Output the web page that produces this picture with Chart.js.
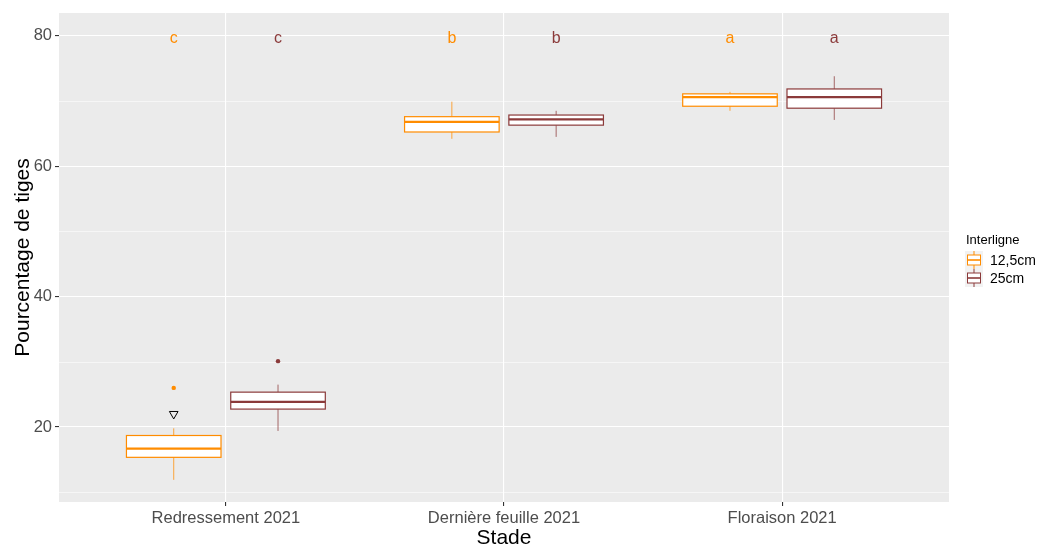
<!DOCTYPE html>
<html>
<head>
<meta charset="utf-8">
<script src="https://cdn.jsdelivr.net/npm/chart.js@4/dist/chart.umd.min.js"></script>
<style>
  html, body { margin: 0; padding: 0; background: #ffffff; }
  #wrap { width: 1038px; height: 547px; position: relative; }
</style>
</head>
<body>
<div id="wrap"><canvas id="c" width="1038" height="547"></canvas></div>
<script>
// Stades (x categories) and spacing groups
const stades = ['Redressement 2021', 'Dernière feuille 2021', 'Floraison 2021'];
const interlignes = ['12,5cm', '25cm'];
const couleurs = ['#FF8C00', '#8B3A3A'];

// Box statistics per stade: [whisker low, Q1, median, Q3, whisker high]
const stats125 = [
  [11.9, 15.35, 16.7, 18.7, 19.8],
  [64.2, 65.25, 66.8, 67.6, 69.9],
  [68.5, 69.2, 70.6, 71.1, 71.4]
];
const stats25 = [
  [19.4, 22.75, 23.85, 25.35, 26.5],
  [64.5, 66.3, 67.2, 67.85, 68.5],
  [67.1, 68.9, 70.6, 71.85, 73.8]
];

// Outlying values: [stade index, value]
const outliers125 = [[0, 26.0]];
const outliers25 = [[0, 30.1]];
// Open triangle marker
const triangleMark = [[0, 22.0]];

// Significance letters placed at y = 80
const lettres125 = ['c', 'b', 'a'];
const lettres25 = ['c', 'b', 'a'];
const lettreY = 80;

// Axis ticks
const yTicks = [20, 40, 60, 80];
const yMinor = [10, 30, 50, 70];
const xTicks = [1, 2, 3];

const dodge = 0.1875;     // offset of each box from the category centre
const boxHalf = 0.17;     // half width of a box in category units
const FONT = '"Liberation Sans", Arial, sans-serif';

function toPoints(list, off) {
  return list.map(([i, v]) => ({ x: i + 1 + off, y: v }));
}

const panelPlugin = {
  id: 'panel',
  beforeDraw(chart) {
    const { ctx, chartArea: a, scales: { y } } = chart;
    ctx.save();
    ctx.fillStyle = '#EBEBEB';
    ctx.fillRect(a.left, a.top, a.right - a.left, a.bottom - a.top);
    ctx.strokeStyle = '#FFFFFF';
    ctx.lineWidth = 0.55;
    yMinor.forEach(v => {
      const py = Math.round(y.getPixelForValue(v)) + 0.5;
      ctx.beginPath(); ctx.moveTo(a.left, py); ctx.lineTo(a.right, py); ctx.stroke();
    });
    ctx.restore();
  },
  beforeDatasetsDraw(chart) {
    const { ctx, scales: { x, y } } = chart;
    ctx.save();
    [stats125, stats25].forEach((series, s) => {
      const off = s === 0 ? -dodge : dodge;
      ctx.strokeStyle = couleurs[s];
      series.forEach((st, i) => {
        const [lo, q1, med, q3, hi] = st;
        const cx = x.getPixelForValue(i + 1 + off);
        const l = x.getPixelForValue(i + 1 + off - boxHalf);
        const r = x.getPixelForValue(i + 1 + off + boxHalf);
        const pq1 = y.getPixelForValue(q1), pq3 = y.getPixelForValue(q3);
        // whiskers
        ctx.lineWidth = 1;
        ctx.globalAlpha = 0.75;
        ctx.beginPath();
        ctx.moveTo(cx, y.getPixelForValue(hi)); ctx.lineTo(cx, pq3);
        ctx.moveTo(cx, pq1); ctx.lineTo(cx, y.getPixelForValue(lo));
        ctx.stroke();
        ctx.globalAlpha = 1;
        // box
        ctx.fillStyle = '#FFFFFF';
        ctx.fillRect(l, pq3, r - l, pq1 - pq3);
        ctx.lineWidth = 1.2;
        ctx.strokeRect(l, pq3, r - l, pq1 - pq3);
        // median
        ctx.lineWidth = 2.2;
        const pm = y.getPixelForValue(med);
        ctx.beginPath(); ctx.moveTo(l, pm); ctx.lineTo(r, pm); ctx.stroke();
      });
    });
    ctx.restore();
  },
  afterDraw(chart) {
    const { ctx, chartArea: a, scales: { x, y } } = chart;
    ctx.save();
    // letters
    ctx.font = '16px ' + FONT;
    ctx.textAlign = 'center';
    ctx.textBaseline = 'middle';
    [lettres125, lettres25].forEach((lets, s) => {
      const off = s === 0 ? -dodge : dodge;
      ctx.fillStyle = couleurs[s];
      lets.forEach((t, i) => {
        ctx.fillText(t, x.getPixelForValue(i + 1 + off), y.getPixelForValue(lettreY) + 3);
      });
    });
    // axis titles
    ctx.fillStyle = '#000000';
    ctx.font = '21px ' + FONT;
    ctx.fillText('Stade', (a.left + a.right) / 2, 538);
    ctx.save();
    ctx.translate(23, (a.top + a.bottom) / 2);
    ctx.rotate(-Math.PI / 2);
    ctx.fillText('Pourcentage de tiges', 0, 0);
    ctx.restore();
    // legend
    ctx.textAlign = 'left';
    ctx.font = '13px ' + FONT;
    ctx.fillText('Interligne', 966, 240);
    ctx.font = '14px ' + FONT;
    interlignes.forEach((lab, k) => {
      const ky = 252 + k * 18;
      ctx.fillStyle = '#F2F2F2';
      ctx.fillRect(965, ky - 1, 18, 18);
      const c = couleurs[k];
      ctx.strokeStyle = c;
      ctx.lineWidth = 1;
      ctx.beginPath();
      ctx.moveTo(974, ky - 1); ctx.lineTo(974, ky + 3);
      ctx.moveTo(974, ky + 13); ctx.lineTo(974, ky + 17);
      ctx.stroke();
      ctx.fillStyle = '#FFFFFF';
      ctx.fillRect(967.5, ky + 3, 13, 10);
      ctx.strokeRect(967.5, ky + 3, 13, 10);
      ctx.lineWidth = 1.6;
      ctx.beginPath(); ctx.moveTo(967.5, ky + 8); ctx.lineTo(980.5, ky + 8); ctx.stroke();
      ctx.fillStyle = '#000000';
      ctx.fillText(lab, 990, ky + 9);
    });
    ctx.restore();
  }
};

new Chart(document.getElementById('c'), {
  type: 'scatter',
  data: {
    datasets: [
      {
        label: interlignes[0],
        data: toPoints(outliers125, -dodge),
        backgroundColor: couleurs[0], borderColor: couleurs[0],
        pointRadius: 2.2, borderWidth: 0
      },
      {
        label: interlignes[1],
        data: toPoints(outliers25, dodge),
        backgroundColor: couleurs[1], borderColor: couleurs[1],
        pointRadius: 2.2, borderWidth: 0
      },
      {
        label: 'triangle',
        data: toPoints(triangleMark, -dodge),
        pointStyle: 'triangle', rotation: 180,
        backgroundColor: 'rgba(0,0,0,0)', borderColor: '#000000',
        pointRadius: 5, borderWidth: 1
      }
    ]
  },
  options: {
    responsive: false,
    animation: false,
    layout: { padding: { top: 13, right: 89, left: 0, bottom: 0 } },
    plugins: { legend: { display: false }, tooltip: { enabled: false } },
    scales: {
      x: {
        type: 'linear', min: 0.4, max: 3.6,
        afterBuildTicks(s) { s.ticks = xTicks.map(v => ({ value: v })); },
        afterFit(s) { s.height = 45; },
        ticks: {
          callback: (v) => stades[v - 1],
          color: '#4D4D4D',
          font: { family: FONT, size: 16.5 },
          padding: 3, maxRotation: 0, autoSkip: false
        },
        grid: { color: '#FFFFFF', lineWidth: 1.1, tickColor: '#333333', tickLength: 4 },
        border: { display: false }
      },
      y: {
        type: 'linear', min: 8.5, max: 83.5,
        afterBuildTicks(s) { s.ticks = yTicks.map(v => ({ value: v })); },
        afterFit(s) { s.width = 59; },
        ticks: {
          color: '#4D4D4D',
          font: { family: FONT, size: 16.5 },
          padding: 3
        },
        grid: { color: '#FFFFFF', lineWidth: 1.1, tickColor: '#333333', tickLength: 4 },
        border: { display: false }
      }
    }
  },
  plugins: [panelPlugin]
});
</script>
</body>
</html>
